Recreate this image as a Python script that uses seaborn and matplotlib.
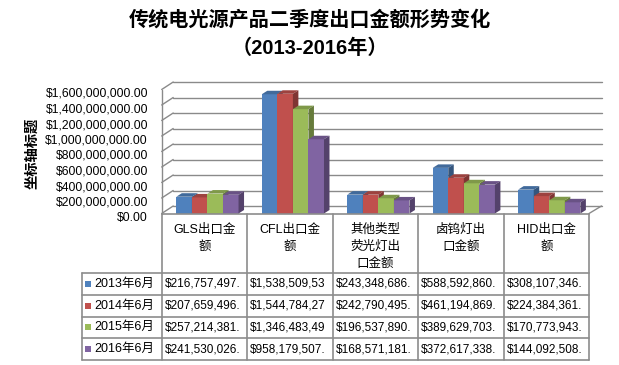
import numpy as np
import pandas as pd
import seaborn as sns
import matplotlib
matplotlib.use("Agg")
import matplotlib.pyplot as plt
from matplotlib.patches import Polygon, Rectangle
from matplotlib.lines import Line2D
from matplotlib.transforms import blended_transform_factory, IdentityTransform, ScaledTranslation
from matplotlib.colors import to_rgb

# ---------------- data ----------------
categories = ["GLS出口金\n额", "CFL出口金\n额", "其他类型\n荧光灯出\n口金额", "卤钨灯出\n口金额", "HID出口金\n额"]
periods = ["2013年6月", "2014年6月", "2015年6月", "2016年6月"]
v2013 = [216757497, 1538509530, 243348686, 588592860, 308107346]
v2014 = [207659496, 1544784270, 242790495, 461194869, 224384361]
v2015 = [257214381, 1346483490, 196537890, 389629703, 170773943]
v2016 = [241530026, 958179507, 168571181, 372617338, 144092508]
series = [v2013, v2014, v2015, v2016]
colors = ["#4F81BD", "#C0504D", "#9BBB59", "#8064A2"]
yticks = [0, 200000000, 400000000, 600000000, 800000000,
          1000000000, 1200000000, 1400000000, 1600000000]
title_lines = ["传统电光源产品二季度出口金额形势变化", "（2013-2016年）"]
y_title = "坐标轴标题"

rows = []
for p, vals in zip(periods, series):
    for c, v in zip(categories, vals):
        rows.append({"cat": c, "period": p, "value": v})
df = pd.DataFrame(rows)

# ---------------- style ----------------
sns.set_style("white")
plt.rcParams["font.family"] = ["Liberation Sans", "Noto Sans CJK SC"]

W, H = 619, 365
fig = plt.figure(figsize=(W / 100, H / 100), dpi=100)


def fx(x):
    return x / W


def fy(y):
    return 1 - y / H


ax_l, ax_r, ax_t, ax_b = 161.7, 589.0, 89.5, 213.5
ax = fig.add_axes([fx(ax_l), fy(ax_b), fx(ax_r - ax_l), (ax_b - ax_t) / H])
ax.set_facecolor("none")

sns.barplot(data=df, x="cat", y="value", hue="period", order=categories,
            hue_order=periods, palette=colors, width=0.728, saturation=1,
            errorbar=None, legend=False, linewidth=0, edgecolor="none", ax=ax)

shift = 3.0 / ((ax_r - ax_l) / 5)
ax.set_xlim(-0.5 - shift, 4.5 - shift)
ax.set_ylim(0, yticks[-1])
ax.set_xticks([])
ax.set_xlabel("")
ax.set_ylabel("")
for s in ax.spines.values():
    s.set_visible(False)
ax.set_yticks(yticks)
ax.set_yticklabels([f"${v:,.2f}" for v in yticks], fontsize=8.7, color="#000000")
ax.tick_params(axis="y", length=0, pad=9.9)
for lbl in ax.get_yticklabels():
    lbl.set_transform(lbl.get_transform() + ScaledTranslation(0, -3 / 100, fig.dpi_scale_trans))

# ---------------- 3D walls / grid ----------------
grid_c = "#8a8a8a"
dx, dy = 11.5, 7.5
bt = blended_transform_factory(ax.transAxes, ax.transData)
for v in yticks:
    X0, Y = bt.transform((0, v))
    X1, _ = bt.transform((1, v))
    ax.add_artist(Line2D([X0 + dx, X1 + dx + 1], [Y + dy, Y + dy], transform=IdentityTransform(),
                         color=grid_c, lw=1.0, zorder=1, clip_on=False))
    ax.add_artist(Line2D([X0, X0 + dx], [Y, Y + dy], transform=IdentityTransform(),
                         color=grid_c, lw=1.0, zorder=1, clip_on=False))
# left wall front edge
X0, Yb = bt.transform((0, 0))
_, Yt = bt.transform((0, yticks[-1]))
ax.add_artist(Line2D([X0, X0], [Yb, Yt], transform=IdentityTransform(),
                     color=grid_c, lw=1.0, zorder=1, clip_on=False))
# floor right diagonal
X1, _ = bt.transform((1, 0))
ax.add_artist(Line2D([X1, X1 + dx + 1], [Yb, Yb + dy], transform=IdentityTransform(),
                     color=grid_c, lw=1.0, zorder=1, clip_on=False))

# ---------------- 3D bar faces ----------------
def shade(c, f):
    r, g, b = to_rgb(c)
    return (r * f, g * f, b * f)

bars = [p for p in ax.patches if isinstance(p, Rectangle) and p.get_height() > 0]
bars.sort(key=lambda p: p.get_x())
bdx, bdy = 5.5, 3.5
for k, p in enumerate(bars):
    z = 3 + k * 0.01
    p.set_zorder(z)
    col = p.get_facecolor()
    x0, y0, w, h = p.get_x(), p.get_y(), p.get_width(), p.get_height()
    (X0, Y0) = ax.transData.transform((x0, y0))
    (X1, Y1) = ax.transData.transform((x0 + w, y0 + h))
    top = [(X0, Y1), (X1, Y1), (X1 + bdx, Y1 + bdy), (X0 + bdx, Y1 + bdy)]
    side = [(X1, Y0), (X1, Y1), (X1 + bdx, Y1 + bdy), (X1 + bdx, Y0 + bdy)]
    ax.add_artist(Polygon(top, closed=True, transform=IdentityTransform(),
                          facecolor=shade(col, 0.82), edgecolor="none", zorder=z, clip_on=False))
    ax.add_artist(Polygon(side, closed=True, transform=IdentityTransform(),
                          facecolor=shade(col, 0.66), edgecolor="none", zorder=z, clip_on=False))

# ---------------- data table ----------------
tab_c = "#8c8c8c"
col_w = (ax_r - ax_l) / 5
col_x = [ax_l + i * col_w for i in range(6)]
tab_left = 82.0
head_top, head_bot = ax_b, 273.0
row_h = 21.75
row_y = [head_bot + i * row_h for i in range(5)]

def hline(x0, x1, y):
    fig.add_artist(Line2D([fx(x0), fx(x1)], [fy(y), fy(y)], transform=fig.transFigure,
                          color=tab_c, lw=1.2))

def vline(x, y0, y1):
    fig.add_artist(Line2D([fx(x), fx(x)], [fy(y0), fy(y1)], transform=fig.transFigure,
                          color=tab_c, lw=1.2))

hline(ax_l, ax_r, head_top)
for y in row_y:
    hline(tab_left, ax_r, y)
for x in col_x:
    vline(x, head_top, row_y[-1])
vline(tab_left, row_y[0], row_y[-1])

for i, cat in enumerate(categories):
    cx = (col_x[i] + col_x[i + 1]) / 2
    for j, line in enumerate(cat.split("\n")):
        fig.text(fx(cx), fy(230 + 17 * j), line, ha="center", va="center",
                 fontsize=9, color="#000000")

for r, (per, vals, c) in enumerate(zip(periods, series, colors)):
    cy = row_y[r] + row_h / 2
    fig.add_artist(Rectangle((fx(85), fy(cy + 3)), 6 / W, 6 / H,
                             transform=fig.transFigure, facecolor=c, edgecolor="none"))
    fig.text(fx(94), fy(cy), per, ha="left", va="center", fontsize=9, color="#000000")
    for i, v in enumerate(vals):
        fig.text(fx(col_x[i] + 3), fy(cy), f"${v:,.2f}"[:13], ha="left", va="center",
                 fontsize=8.5, color="#000000")

# ---------------- titles ----------------
fig.text(0.5, fy(19.5), title_lines[0], ha="center", va="center",
         fontsize=14.5, fontweight="bold", color="#000000")
fig.text(0.5, fy(48), title_lines[1], ha="center", va="center",
         fontsize=14.5, fontweight="bold", color="#000000")
fig.text(fx(32.5), fy(153.5), y_title, rotation=90, ha="center", va="center",
         fontsize=10.3, fontweight="bold", color="#000000")

fig.savefig("out.png", dpi=100, facecolor="white")
